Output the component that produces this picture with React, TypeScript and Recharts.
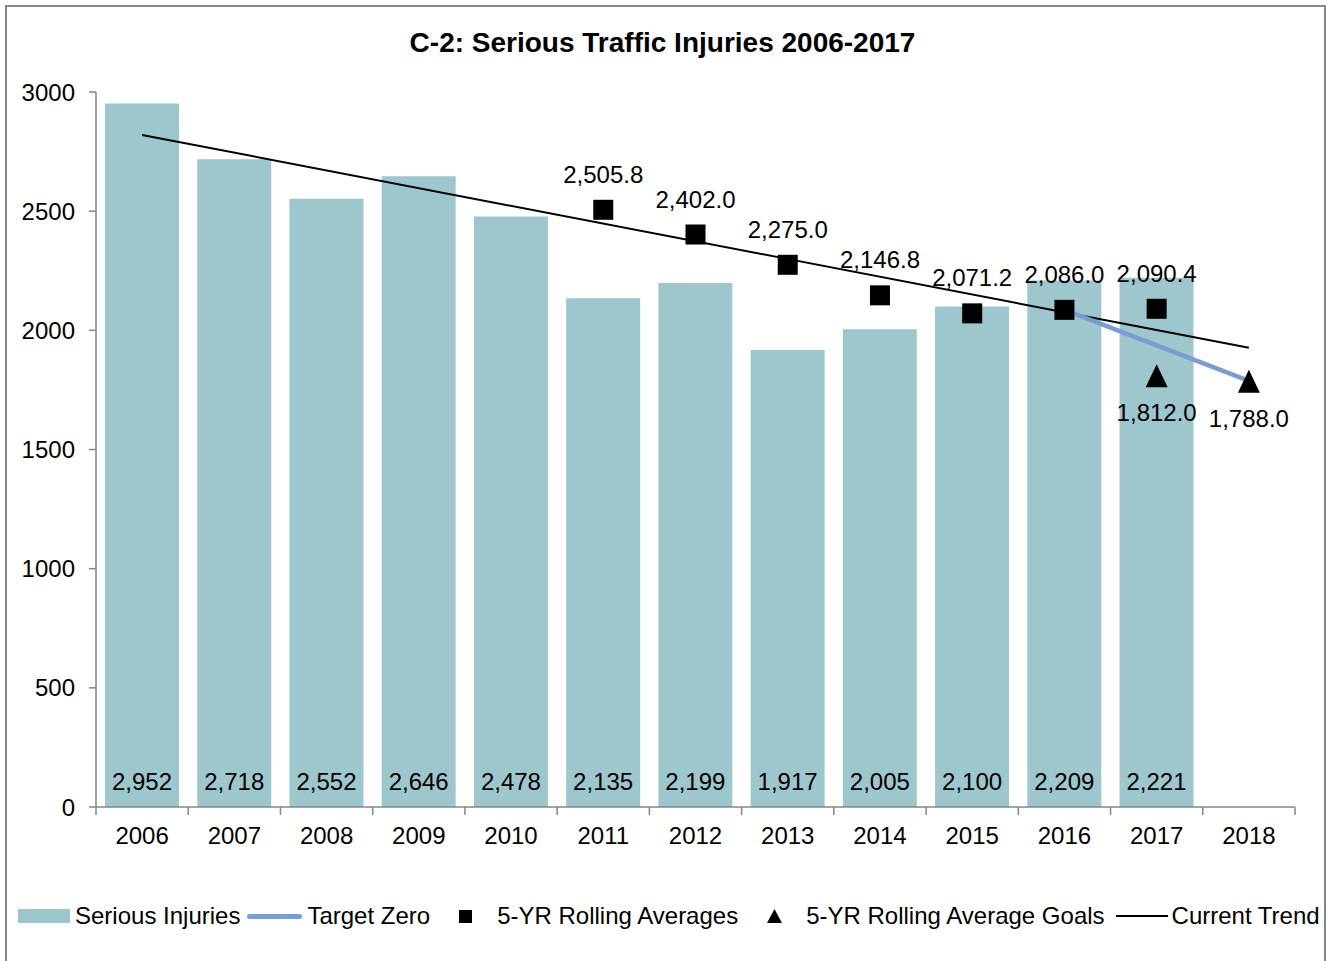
import React from 'react'
import { ComposedChart, Bar, Line, XAxis, YAxis, LabelList, Legend } from 'recharts'

const years = ['2006', '2007', '2008', '2009', '2010', '2011', '2012', '2013', '2014', '2015', '2016', '2017', '2018']
const seriousInjuries = [2952, 2718, 2552, 2646, 2478, 2135, 2199, 1917, 2005, 2100, 2209, 2221, null]
const rollingAverages = [null, null, null, null, null, 2505.8, 2402.0, 2275.0, 2146.8, 2071.2, 2086.0, 2090.4, null]
const rollingAverageGoals = [null, null, null, null, null, null, null, null, null, null, null, 1812.0, 1788.0]
const targetZero = [null, null, null, null, null, null, null, null, null, null, 2086.0, null, 1788.0]
const currentTrend = [2820, null, null, null, null, null, null, null, null, null, null, null, 1927]
const yTicks = [0, 500, 1000, 1500, 2000, 2500, 3000]

const data = years.map((year, i) => ({
  year,
  injuries: seriousInjuries[i],
  avg: rollingAverages[i],
  goal: rollingAverageGoals[i],
  target: targetZero[i],
  trend: currentTrend[i],
}))

const FONT = '"Liberation Sans", Arial, sans-serif'
const FS = 24
const BAR_COLOR = '#9dc6cd'
const BLUE = '#7b9cd3'
const AXIS_COLOR = '#868686'

const fmtInt = (v: number) => v.toLocaleString('en-US')
const fmtOne = (v: number) => v.toLocaleString('en-US', { minimumFractionDigits: 1, maximumFractionDigits: 1 })

function YearTick(props: any) {
  const { x, y, payload, index, visibleTicksCount } = props
  const half = payload?.offset || 1199 / 13 / 2
  const axisY = y - 8
  return (
    <g>
      <line x1={x - half} x2={x - half} y1={axisY} y2={axisY + 8} stroke={AXIS_COLOR} strokeWidth={1.5} />
      {index === visibleTicksCount - 1 && (
        <line x1={x + half} x2={x + half} y1={axisY} y2={axisY + 8} stroke={AXIS_COLOR} strokeWidth={1.5} />
      )}
      <text x={x} y={axisY + 37} textAnchor="middle" fill="#000" fontSize={FS} fontFamily={FONT}>
        {payload.value}
      </text>
    </g>
  )
}

function SquareDot(props: any) {
  const { cx, cy, index, value } = props
  if (value == null || cy == null) return <g key={`sq-${index}`} />
  return <rect key={`sq-${index}`} x={cx - 10} y={cy - 10} width={20} height={20} fill="#000" />
}

function TriangleDot(props: any) {
  const { cx, cy, index, value } = props
  if (value == null || cy == null) return <g key={`tr-${index}`} />
  return <polygon key={`tr-${index}`} points={`${cx},${cy - 11} ${cx + 11},${cy + 12} ${cx - 11},${cy + 12}`} fill="#000" />
}

function LegendContent() {
  const text = { flexShrink: 0 }
  return (
    <div style={{ display: 'flex', alignItems: 'center', height: 30, fontSize: FS, fontFamily: FONT, color: '#000', whiteSpace: 'nowrap' }}>
      <span style={{ width: 52, height: 14, background: BAR_COLOR, flexShrink: 0 }} />
      <span style={{ ...text, marginLeft: 5 }}>Serious Injuries</span>
      <span style={{ width: 55, height: 5, borderRadius: 3, background: BLUE, marginLeft: 7, flexShrink: 0 }} />
      <span style={{ ...text, marginLeft: 5 }}>Target Zero</span>
      <span style={{ width: 13, height: 13, background: '#000', marginLeft: 29, flexShrink: 0 }} />
      <span style={{ ...text, marginLeft: 25 }}>5-YR Rolling Averages</span>
      <svg width={15} height={14} style={{ marginLeft: 29, flexShrink: 0 }}>
        <polygon points="7.5,0 15,14 0,14" fill="#000" />
      </svg>
      <span style={{ ...text, marginLeft: 24 }}>5-YR Rolling Average Goals</span>
      <span style={{ width: 52, height: 2, background: '#000', marginLeft: 11, flexShrink: 0 }} />
      <span style={{ ...text, marginLeft: 4 }}>Current Trend</span>
    </div>
  )
}

export default function App() {
  return (
    <div style={{ position: 'absolute', left: 0, top: 0, width: 1333, height: 961, background: '#fff', fontFamily: FONT }}>
      <div
        style={{
          position: 'absolute',
          left: 5,
          top: 5,
          width: 1321,
          height: 956,
          border: `2px solid ${AXIS_COLOR}`,
          borderBottom: 'none',
          boxSizing: 'border-box',
        }}
      />
      <div
        style={{
          position: 'absolute',
          left: 0,
          top: 26,
          width: 1325,
          textAlign: 'center',
          fontSize: 28,
          fontWeight: 'bold',
          color: '#000',
          lineHeight: '34px',
        }}
      >
        C-2: Serious Traffic Injuries 2006-2017
      </div>
      <div style={{ position: 'absolute', left: 0, top: 0 }}>
        <ComposedChart
          width={1333}
          height={961}
          data={data}
          margin={{ top: 92, right: 38, bottom: 114, left: 36 }}
          barSize={74}
        >
          <XAxis
            dataKey="year"
            height={40}
            tickLine={false}
            tickSize={8}
            tickMargin={0}
            stroke={AXIS_COLOR}
            strokeWidth={1.5}
            tick={<YearTick />}
            interval={0}
          />
          <YAxis
            width={60}
            domain={[0, 3000]}
            ticks={yTicks}
            tickSize={7}
            tickMargin={14}
            stroke={AXIS_COLOR}
            strokeWidth={1.5}
            tick={{ fill: '#000', fontSize: FS, fontFamily: FONT }}
            interval={0}
          />
          <Legend
            layout="horizontal"
            verticalAlign="middle"
            align="center"
            wrapperStyle={{ left: 18, top: 901, width: 1310, height: 30 }}
            content={() => <LegendContent />}
          />
          <Bar dataKey="injuries" name="Serious Injuries" fill={BAR_COLOR} isAnimationActive={false}>
            <LabelList
              dataKey="injuries"
              content={(p: any) =>
                p.value == null ? null : (
                  <text
                    x={p.x + p.width / 2}
                    y={p.y + p.height - 17}
                    textAnchor="middle"
                    fill="#000"
                    fontSize={FS}
                    fontFamily={FONT}
                  >
                    {fmtInt(p.value)}
                  </text>
                )
              }
            />
          </Bar>
          <Line
            dataKey="trend"
            name="Current Trend"
            stroke="#000"
            strokeWidth={2}
            dot={false}
            activeDot={false}
            connectNulls
            isAnimationActive={false}
          />
          <Line
            dataKey="target"
            name="Target Zero"
            stroke={BLUE}
            strokeWidth={4.5}
            dot={false}
            activeDot={false}
            connectNulls
            isAnimationActive={false}
          />
          <Line
            dataKey="avg"
            name="5-YR Rolling Averages"
            stroke="none"
            dot={<SquareDot />}
            activeDot={false}
            isAnimationActive={false}
          >
            <LabelList
              dataKey="avg"
              content={(p: any) =>
                p.value == null ? null : (
                  <text x={p.x} y={p.y - 27} textAnchor="middle" fill="#000" fontSize={FS} fontFamily={FONT}>
                    {fmtOne(p.value)}
                  </text>
                )
              }
            />
          </Line>
          <Line
            dataKey="goal"
            name="5-YR Rolling Average Goals"
            stroke="none"
            dot={<TriangleDot />}
            activeDot={false}
            isAnimationActive={false}
          >
            <LabelList
              dataKey="goal"
              content={(p: any) =>
                p.value == null ? null : (
                  <text x={p.x} y={p.y + 46} textAnchor="middle" fill="#000" fontSize={FS} fontFamily={FONT}>
                    {fmtOne(p.value)}
                  </text>
                )
              }
            />
          </Line>
        </ComposedChart>
      </div>
    </div>
  )
}
